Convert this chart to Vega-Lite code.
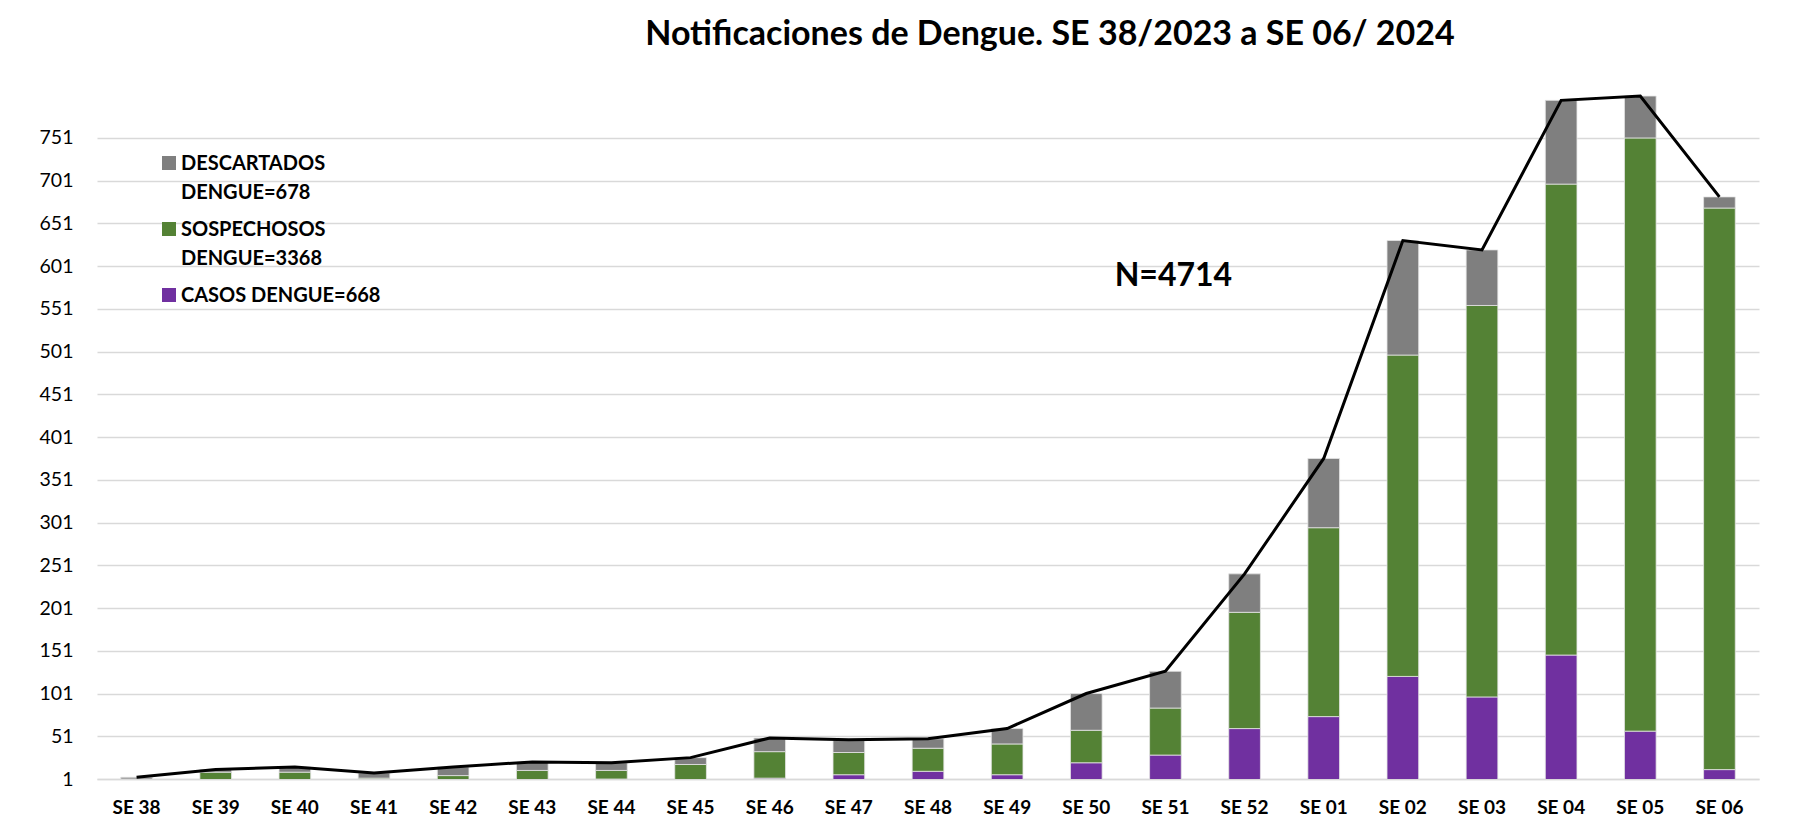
{
  "$schema": "https://vega.github.io/schema/vega-lite/v6.json",
  "width": 1662,
  "height": 692,
  "autosize": {"type": "none"},
  "padding": {"left": 97, "top": 87, "right": 34, "bottom": 59},
  "background": "white",
  "title": {"text": "Notificaciones de Dengue. SE 38/2023 a SE 06/ 2024", "font": "Lato", "fontSize": 34, "fontWeight": "bold", "color": "#000000", "anchor": "middle", "dx": 122, "offset": 35},
  "config": {"view": {"stroke": null}, "font": "Lato", "style": {"guide-label": {"lineHeight": 29, "dy": 7}}},
  "datasets": {
    "notif": [
      {"semana": "SE 38", "tipo": "CASOS DENGUE=668", "n": 0},
      {"semana": "SE 38", "tipo": "SOSPECHOSOS DENGUE=3368", "n": 1},
      {"semana": "SE 38", "tipo": "DESCARTADOS DENGUE=678", "n": 2},
      {"semana": "SE 39", "tipo": "CASOS DENGUE=668", "n": 0},
      {"semana": "SE 39", "tipo": "SOSPECHOSOS DENGUE=3368", "n": 9},
      {"semana": "SE 39", "tipo": "DESCARTADOS DENGUE=678", "n": 3},
      {"semana": "SE 40", "tipo": "CASOS DENGUE=668", "n": 0},
      {"semana": "SE 40", "tipo": "SOSPECHOSOS DENGUE=3368", "n": 9},
      {"semana": "SE 40", "tipo": "DESCARTADOS DENGUE=678", "n": 6},
      {"semana": "SE 41", "tipo": "CASOS DENGUE=668", "n": 0},
      {"semana": "SE 41", "tipo": "SOSPECHOSOS DENGUE=3368", "n": 2},
      {"semana": "SE 41", "tipo": "DESCARTADOS DENGUE=678", "n": 6},
      {"semana": "SE 42", "tipo": "CASOS DENGUE=668", "n": 0},
      {"semana": "SE 42", "tipo": "SOSPECHOSOS DENGUE=3368", "n": 5},
      {"semana": "SE 42", "tipo": "DESCARTADOS DENGUE=678", "n": 10},
      {"semana": "SE 43", "tipo": "CASOS DENGUE=668", "n": 0},
      {"semana": "SE 43", "tipo": "SOSPECHOSOS DENGUE=3368", "n": 11},
      {"semana": "SE 43", "tipo": "DESCARTADOS DENGUE=678", "n": 10},
      {"semana": "SE 44", "tipo": "CASOS DENGUE=668", "n": 1},
      {"semana": "SE 44", "tipo": "SOSPECHOSOS DENGUE=3368", "n": 10},
      {"semana": "SE 44", "tipo": "DESCARTADOS DENGUE=678", "n": 9},
      {"semana": "SE 45", "tipo": "CASOS DENGUE=668", "n": 0},
      {"semana": "SE 45", "tipo": "SOSPECHOSOS DENGUE=3368", "n": 18},
      {"semana": "SE 45", "tipo": "DESCARTADOS DENGUE=678", "n": 8},
      {"semana": "SE 46", "tipo": "CASOS DENGUE=668", "n": 2},
      {"semana": "SE 46", "tipo": "SOSPECHOSOS DENGUE=3368", "n": 31},
      {"semana": "SE 46", "tipo": "DESCARTADOS DENGUE=678", "n": 16},
      {"semana": "SE 47", "tipo": "CASOS DENGUE=668", "n": 6},
      {"semana": "SE 47", "tipo": "SOSPECHOSOS DENGUE=3368", "n": 26},
      {"semana": "SE 47", "tipo": "DESCARTADOS DENGUE=678", "n": 15},
      {"semana": "SE 48", "tipo": "CASOS DENGUE=668", "n": 10},
      {"semana": "SE 48", "tipo": "SOSPECHOSOS DENGUE=3368", "n": 27},
      {"semana": "SE 48", "tipo": "DESCARTADOS DENGUE=678", "n": 11},
      {"semana": "SE 49", "tipo": "CASOS DENGUE=668", "n": 6},
      {"semana": "SE 49", "tipo": "SOSPECHOSOS DENGUE=3368", "n": 36},
      {"semana": "SE 49", "tipo": "DESCARTADOS DENGUE=678", "n": 18},
      {"semana": "SE 50", "tipo": "CASOS DENGUE=668", "n": 20},
      {"semana": "SE 50", "tipo": "SOSPECHOSOS DENGUE=3368", "n": 38},
      {"semana": "SE 50", "tipo": "DESCARTADOS DENGUE=678", "n": 43},
      {"semana": "SE 51", "tipo": "CASOS DENGUE=668", "n": 29},
      {"semana": "SE 51", "tipo": "SOSPECHOSOS DENGUE=3368", "n": 55},
      {"semana": "SE 51", "tipo": "DESCARTADOS DENGUE=678", "n": 43},
      {"semana": "SE 52", "tipo": "CASOS DENGUE=668", "n": 60},
      {"semana": "SE 52", "tipo": "SOSPECHOSOS DENGUE=3368", "n": 136},
      {"semana": "SE 52", "tipo": "DESCARTADOS DENGUE=678", "n": 45},
      {"semana": "SE 01", "tipo": "CASOS DENGUE=668", "n": 74},
      {"semana": "SE 01", "tipo": "SOSPECHOSOS DENGUE=3368", "n": 221},
      {"semana": "SE 01", "tipo": "DESCARTADOS DENGUE=678", "n": 81},
      {"semana": "SE 02", "tipo": "CASOS DENGUE=668", "n": 121},
      {"semana": "SE 02", "tipo": "SOSPECHOSOS DENGUE=3368", "n": 376},
      {"semana": "SE 02", "tipo": "DESCARTADOS DENGUE=678", "n": 134},
      {"semana": "SE 03", "tipo": "CASOS DENGUE=668", "n": 97},
      {"semana": "SE 03", "tipo": "SOSPECHOSOS DENGUE=3368", "n": 458},
      {"semana": "SE 03", "tipo": "DESCARTADOS DENGUE=678", "n": 65},
      {"semana": "SE 04", "tipo": "CASOS DENGUE=668", "n": 146},
      {"semana": "SE 04", "tipo": "SOSPECHOSOS DENGUE=3368", "n": 551},
      {"semana": "SE 04", "tipo": "DESCARTADOS DENGUE=678", "n": 98},
      {"semana": "SE 05", "tipo": "CASOS DENGUE=668", "n": 57},
      {"semana": "SE 05", "tipo": "SOSPECHOSOS DENGUE=3368", "n": 694},
      {"semana": "SE 05", "tipo": "DESCARTADOS DENGUE=678", "n": 49},
      {"semana": "SE 06", "tipo": "CASOS DENGUE=668", "n": 12},
      {"semana": "SE 06", "tipo": "SOSPECHOSOS DENGUE=3368", "n": 657},
      {"semana": "SE 06", "tipo": "DESCARTADOS DENGUE=678", "n": 13}
    ],
    "anot": [{"semana": "SE 51", "valor": 590, "texto": "N=4714"}]
  },
  "layer": [
    {
      "data": {"name": "notif"},
      "transform": [{"calculate": "datum.tipo == 'CASOS DENGUE=668' ? 0 : (datum.tipo == 'SOSPECHOSOS DENGUE=3368' ? 1 : 2)", "as": "orden"}],
      "mark": {"type": "bar", "clip": true, "stroke": "#e4e4e4", "strokeWidth": 0.8},
      "encoding": {
        "x": {
          "field": "semana", "type": "nominal",
          "scale": {"domain": ["SE 38","SE 39","SE 40","SE 41","SE 42","SE 43","SE 44","SE 45","SE 46","SE 47","SE 48","SE 49","SE 50","SE 51","SE 52","SE 01","SE 02","SE 03","SE 04","SE 05","SE 06"], "paddingInner": 0.6, "paddingOuter": 0.3},
          "axis": {"title": null, "labelAngle": 0, "labelFont": "Lato", "labelFontSize": 19, "labelFontWeight": "bold", "labelColor": "#000000", "ticks": false, "domain": true, "domainColor": "#d9d9d9", "domainWidth": 1.7, "labelPadding": 12, "grid": false}
        },
        "y": {
          "field": "n", "type": "quantitative", "stack": "zero",
          "scale": {"domain": [1, 810.6], "zero": false, "nice": false},
          "axis": {"title": null, "values": [1,51,101,151,201,251,301,351,401,451,501,551,601,651,701,751], "grid": true, "gridColor": "#d9d9d9", "gridWidth": 1.7, "domain": false, "ticks": false, "labelFont": "Lato", "labelFontSize": 19.5, "labelColor": "#000000", "labelPadding": 24, "labelOffset": -7}
        },
        "color": {
          "field": "tipo", "type": "nominal",
          "scale": {"domain": ["DESCARTADOS DENGUE=678", "SOSPECHOSOS DENGUE=3368", "CASOS DENGUE=668"], "range": ["#7f7f7f", "#548235", "#7030a0"]},
          "legend": {
            "title": null, "orient": "none", "legendX": 62, "legendY": 66,
            "symbolType": "square", "symbolSize": 196, "symbolStrokeWidth": 0,
            "labelFont": "Lato", "labelFontSize": 20, "labelFontWeight": "bold", "labelColor": "#000000",
            "labelBaseline": "alphabetic", "labelOffset": 2, "labelLimit": 400, "rowPadding": 16, "padding": 0,
            "labelExpr": "datum.label == 'DESCARTADOS DENGUE=678' ? ['DESCARTADOS', 'DENGUE=678'] : (datum.label == 'SOSPECHOSOS DENGUE=3368' ? ['SOSPECHOSOS', 'DENGUE=3368'] : datum.label)"
          }
        },
        "order": {"field": "orden", "type": "quantitative", "sort": "ascending"}
      }
    },
    {
      "data": {"name": "notif"},
      "mark": {"type": "line", "color": "#000000", "strokeWidth": 3, "clip": true},
      "encoding": {
        "x": {"field": "semana", "type": "nominal"},
        "y": {"aggregate": "sum", "field": "n", "type": "quantitative", "title": null}
      }
    },
    {
      "data": {"name": "anot"},
      "mark": {"type": "text", "font": "Lato", "fontSize": 32, "fontWeight": "bold", "color": "#000000", "dx": 8, "baseline": "middle", "align": "center"},
      "encoding": {
        "x": {"field": "semana", "type": "nominal"},
        "y": {"field": "valor", "type": "quantitative", "title": null},
        "text": {"field": "texto"}
      }
    }
  ]
}
